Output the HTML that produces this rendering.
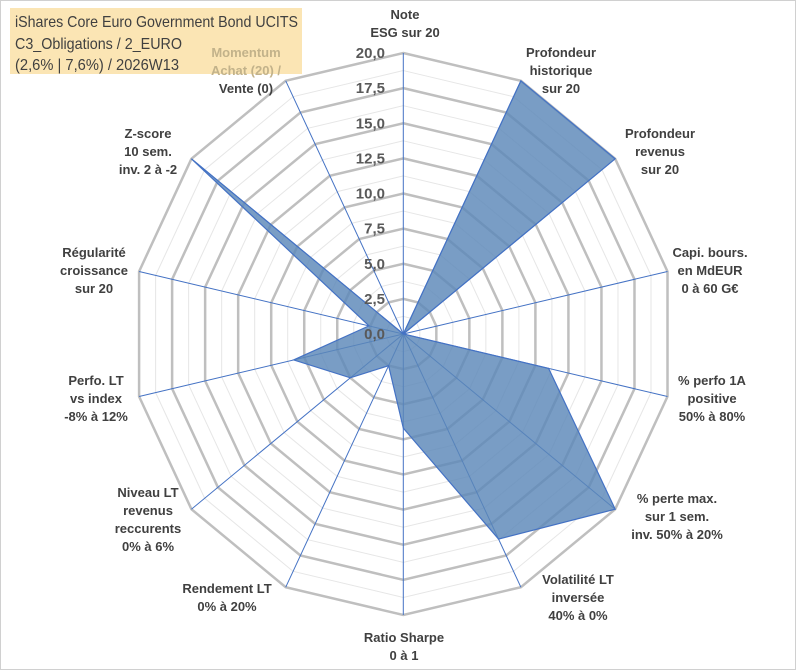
<!DOCTYPE html>
<html><head><meta charset="utf-8">
<style>
html,body{margin:0;padding:0;background:#fff;}
#wrap{position:relative;width:801px;height:671px;overflow:hidden;font-family:"Liberation Sans",sans-serif;}
svg text{font-family:"Liberation Sans",sans-serif;}
</style></head>
<body>
<div id="wrap">
<svg id="chart" width="801" height="671" viewBox="0 0 801 671">
<rect x="0.5" y="0.5" width="795" height="669" fill="#fff" stroke="#d0d0d0"/>
<rect x="10" y="8" width="292" height="66" fill="#fbe5b4"/>
<text x="15" y="27" font-size="16" fill="#404040" textLength="283" lengthAdjust="spacingAndGlyphs">iShares Core Euro Government Bond UCITS</text>
<text x="15" y="49" font-size="16" fill="#404040" textLength="167" lengthAdjust="spacingAndGlyphs">C3_Obligations / 2_EURO</text>
<text x="15" y="70" font-size="16" fill="#404040" textLength="164" lengthAdjust="spacingAndGlyphs">(2,6% | 7,6%) / 2026W13</text>
<g id="grid"></g>
<g id="axes"></g>
<g id="series"></g>
<g id="ticks"></g>
<g id="labels"></g>
</svg>
</div>
<script>
const categories = [
 ["Note","ESG sur 20"],
 ["Profondeur","historique","sur 20"],
 ["Profondeur","revenus","sur 20"],
 ["Capi. bours.","en MdEUR","0 à 60 G€"],
 ["% perfo 1A","positive","50% à 80%"],
 ["% perte max.","sur 1 sem.","inv. 50% à 20%"],
 ["Volatilité LT","inversée","40% à 0%"],
 ["Ratio Sharpe","0 à 1"],
 ["Rendement LT","0% à 20%"],
 ["Niveau LT","revenus","reccurents","0% à 6%"],
 ["Perfo. LT","vs index","-8% à 12%"],
 ["Régularité","croissance","sur 20"],
 ["Z-score","10 sem.","inv. 2 à -2"],
 ["Momentum","Achat (20) /","Vente (0)"]
];
const values = [0, 20, 20, 0, 11, 20, 16.2, 6.7, 2.5, 5, 8.3, 2.6, 20, 0];
const tickLabels = ["0,0","2,5","5,0","7,5","10,0","12,5","15,0","17,5","20,0"];
const tickValues = [0,2.5,5,7.5,10,12.5,15,17.5,20];
const labelAnchors = [[405,14],[561,52],[660,133],[710,252],[712,380],[677,498],[578,579],[404,637],[227,588],[148,492],[96,380],[94,252],[148,133],[246,52]];

const NS="http://www.w3.org/2000/svg";
const cx=403.3, cy=334, Rx=271, Ry=281, vmax=20, n=categories.length;
function pt(i,v){const a=i*2*Math.PI/n;return [cx+Math.sin(a)*v/vmax*Rx, cy-Math.cos(a)*v/vmax*Ry];}
function mk(tag,attrs,parent){const e=document.createElementNS(NS,tag);for(const k in attrs)e.setAttribute(k,attrs[k]);parent.appendChild(e);return e;}
const grid=document.getElementById('grid');
for(let k=1;k<=16;k++){
 const v=k*1.25;const pts=[];for(let i=0;i<n;i++)pts.push(pt(i,v).join(','));
 const major=k%2===0;
 const p=mk('polygon',{points:pts.join(' '),fill:'none',stroke:major?'#bfbfbf':'#e6e6e6','stroke-width':major?2.5:1},grid);
 
 
}
const axes=document.getElementById('axes');
for(let i=0;i<n;i++){
 const e=pt(i,vmax);
 const l=mk('line',{x1:cx,y1:cy,x2:e[0],y2:e[1],stroke:'#4472c4','stroke-width':1},axes);
 
 
}
const series=document.getElementById('series');
const sp=values.map((v,i)=>pt(i,v).join(',')).join(' ');
const poly=mk('polygon',{points:sp,fill:'#5b87b8','fill-opacity':0.82,stroke:'#4472c4','stroke-width':1.2},series);


const ticks=document.getElementById('ticks');
tickValues.forEach((v,i)=>{
 const p=pt(0,v);
 const t=mk('text',{x:385,y:p[1]+5,'text-anchor':'end','font-size':15,'font-weight':'bold',fill:'#595959'},ticks);
 t.textContent=tickLabels[i];
 
 
});
const labels=document.getElementById('labels');
categories.forEach((lines,i)=>{
 const [x,y]=labelAnchors[i];
 const t=mk('text',{x:x,y:y+5,'text-anchor':'middle','font-size':13,'font-weight':'bold',fill:'#404040'},labels);
 
 
 lines.forEach((s,j)=>{
  const ts=mk('tspan',{x:x,y:y+5+j*18},t);
  if(i===13&&j<2)ts.setAttribute('fill','#c2b28a');
  ts.textContent=s;
 });
});
</script>
</body></html>
